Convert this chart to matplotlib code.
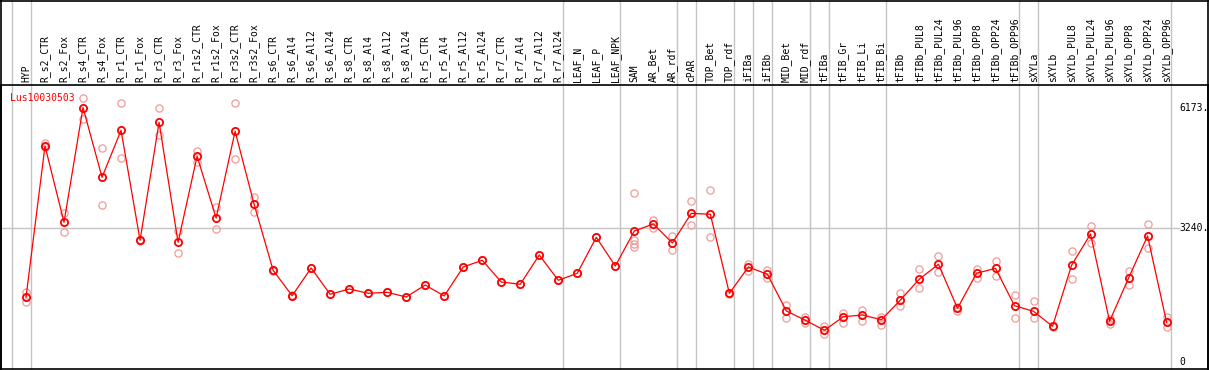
import matplotlib
matplotlib.use("Agg")
import matplotlib.pyplot as plt
from matplotlib.lines import Line2D
from matplotlib.transforms import blended_transform_factory

gene = "Lus10030503"

samples = [
    "HYP", "R_s2_CTR", "R_s2_Fox", "R_s4_CTR", "R_s4_Fox", "R_r1_CTR", "R_r1_Fox",
    "R_r3_CTR", "R_r3_Fox", "R_r1s2_CTR", "R_r1s2_Fox", "R_r3s2_CTR", "R_r3s2_Fox",
    "R_s6_CTR", "R_s6_Al4", "R_s6_Al12", "R_s6_Al24", "R_s8_CTR", "R_s8_Al4",
    "R_s8_Al12", "R_s8_Al24", "R_r5_CTR", "R_r5_Al4", "R_r5_Al12", "R_r5_Al24",
    "R_r7_CTR", "R_r7_Al4", "R_r7_Al12", "R_r7_Al24", "LEAF_N", "LEAF_P", "LEAF_NPK",
    "SAM", "AR_Bet", "AR_rdf", "cPAR", "TOP_Bet", "TOP_rdf", "iFIBa", "iFIBb",
    "MID_Bet", "MID_rdf", "tFIBa", "tFIB_Gr", "tFIB_Li", "tFIB_Bi", "tFIBb",
    "tFIBb_PUL8", "tFIBb_PUL24", "tFIBb_PUL96", "tFIBb_OPP8", "tFIBb_OPP24",
    "tFIBb_OPP96", "sXYLa", "sXYLb", "sXYLb_PUL8", "sXYLb_PUL24", "sXYLb_PUL96",
    "sXYLb_OPP8", "sXYLb_OPP24", "sXYLb_OPP96",
]

mean_expr = [
    1564, 5239, 3386, 6173, 4479, 5620, 2949, 5815, 2900, 4989, 3490, 5596, 3823,
    2220, 1603, 2276, 1637, 1766, 1661, 1686, 1571, 1863, 1596, 2300, 2463,
    1936, 1880, 2592, 1977, 2147, 3021, 2324,
    3174, 3345, 2883, 3604, 3580, 1661, 2300, 2123,
    1231, 1006, 763, 1093, 1134, 1020, 1499,
    2009, 2366, 1297, 2147, 2268, 1360,
    1224, 860, 2341, 3102, 981, 2033, 3053, 957,
]

replicates = [
    [1693, 1457], [5305, 5222], [3604, 3143], [6397, 5887], [5183, 3799],
    [6276, 4940], [2960, 2940], [6155, 5506], [3182, 2633], [5117, 4843],
    [3757, 3216], [6276, 4916], [4008, 3643],
    [2235, 2205], [1615, 1590], [2276], [1637], [1766], [1661], [1686], [1571],
    [1863], [1596], [2300], [2463], [1936], [1880], [2592], [1977], [2147],
    [3021], [2324],
    [4090, 2949, 2851, 2786], [3434, 3255], [3046, 2706], [3903, 3320],
    [4163, 3021], [1670, 1652], [2380, 2210], [2234, 2026],
    [1384, 1069], [1086, 933], [874, 680], [1183, 933], [1256, 996], [1093, 899],
    [1661, 1346], [2251, 1790], [2560, 2171], [1336, 1239], [2244, 2033],
    [2446, 2074], [1613, 1061], [1467, 1054], [870, 850], [2689, 2009],
    [3296, 2883], [1037, 916], [2203, 1856], [3337, 2754], [1078, 850],
]

# last sample index of each tissue group (gray separators)
group_ends = [-1, 0, 28, 31, 34, 35, 37, 38, 39, 41, 42, 45, 52, 53, 60]

y_ticks = [0, 3240, 6173]
y_tick_labels = ["0", "3240.", "6173."]

W, H = 1209, 370
fig = plt.figure(figsize=(W / 100, H / 100), dpi=100)


def px_box(left, top, right, bottom):
    return [left / W, 1 - bottom / H, (right - left) / W, (bottom - top) / H]


ax = fig.add_axes(px_box(1, 85, 1208, 369))
x0, step = 26, 19.01
ax.set_xlim((1 - x0) / step, (1208 - x0) / step)
ax.set_ylim(-177, 6720)
ax.set_xticks([])
ax.set_yticks([])
for s in ax.spines.values():
    s.set_linewidth(1.2)
    s.set_color("black")

gray = "#c4c4c4"
xfig = blended_transform_factory(ax.transData, fig.transFigure)
for g in group_ends:
    ax.plot([g + 0.25, g + 0.25], [0, 1], color=gray, lw=1, transform=xfig,
            clip_on=False, zorder=0)
ax.axhline(3240, xmin=0, xmax=(1179 - 1) / 1207, color=gray, lw=1, zorder=0)

# replicate points
for i, reps in enumerate(replicates):
    ax.plot([i] * len(reps), reps, "o", mfc="none", mec="#f09a9a", ms=5.2,
            mew=0.9, zorder=2)

# mean profile
xs = list(range(len(samples)))
ax.plot(xs, mean_expr, color="red", lw=0.9, zorder=3)
ax.plot(xs, mean_expr, "o", mfc="none", mec="red", ms=5.2, mew=1.3, zorder=4)

# sample labels above the plot
for i, name in enumerate(samples):
    ax.text(i, 1 - 82.5 / H, name, rotation=90, ha="center", va="bottom",
            fontsize=7, family="DejaVu Sans Mono", transform=xfig)

# value labels on the right
yright = blended_transform_factory(ax.transAxes, ax.transData)
for v, lab in zip(y_ticks, y_tick_labels):
    ax.text((1179 - 1) / 1207, v, lab, ha="left", va="center", fontsize=7,
            family="DejaVu Sans Mono", transform=yright)

ax.text(9 / 1207, (369 - 98) / 284, gene, color="red", ha="left", va="center",
        fontsize=7, family="DejaVu Sans Mono", transform=ax.transAxes)

# outer frame around label area
for xs_, ys_ in [([0.6, 0.6], [0, 370]), ([1207.6, 1207.6], [0, 370]),
                 ([0, 1209], [0.6, 0.6])]:
    fig.add_artist(Line2D([x / W for x in xs_], [1 - y / H for y in ys_],
                          color="black", lw=1.2, transform=fig.transFigure))

fig.savefig("out.png", dpi=100)
